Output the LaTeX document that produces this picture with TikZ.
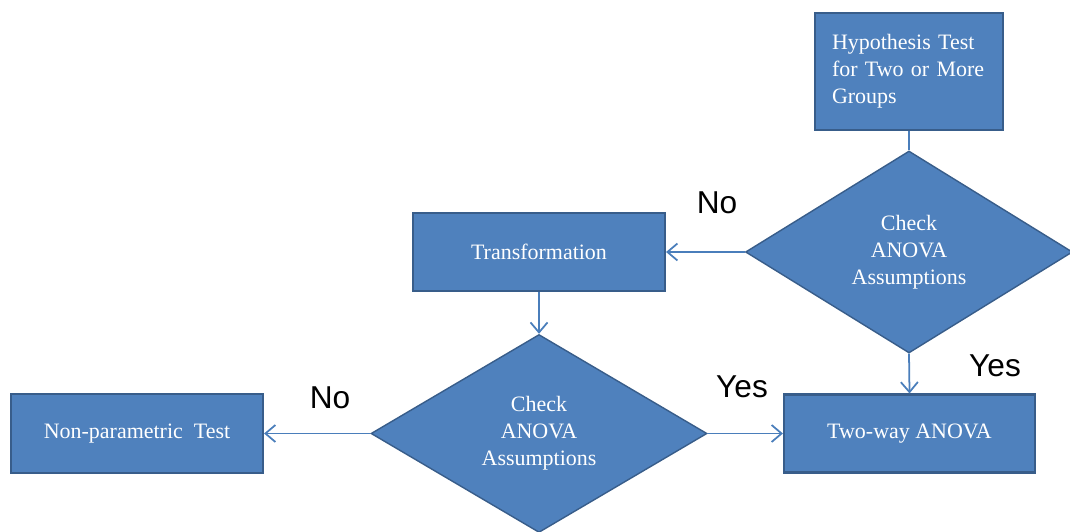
\documentclass[tikz,border=0pt]{standalone}
\usepackage{fontspec}
\setmainfont{Liberation Serif}
\newfontfamily\lblfont{Liberation Sans}
\usepackage{xcolor}
\usepackage{tikz}
\usetikzlibrary{positioning, arrows.meta, shapes.geometric}
\definecolor{boxfill}{HTML}{4F81BD}
\definecolor{boxline}{HTML}{385D8A}
\definecolor{wire}{HTML}{4A7EBB}
\begin{document}
\begin{tikzpicture}[
  box/.style={rectangle, draw=boxline, fill=boxfill, line width=1.2pt, text=white,
    font=\fontsize{12.5}{15.4}\selectfont, minimum width=5.04cm, minimum height=1.56cm, inner sep=0pt},
  choice/.style={diamond, draw=boxline, fill=boxfill, line width=0.8pt, text=white, align=center,
    font=\fontsize{12.5}{15.4}\selectfont, inner sep=0pt},
  flow/.style={draw=wire, line width=1pt, -{Straight Barb[length=2mm, width=3.4mm]}},
  answer/.style={font=\lblfont\fontsize{18}{20}\selectfont, text=black}
]
  \useasboundingbox (0,0) rectangle (21.40,10.62);
  \node[box, minimum width=3.76cm, minimum height=2.34cm, text width=3.08cm, align=left]
    (hyp) at (18.18,9.19) {Hypothesis Test\\ for Two or More\\ Groups};
  \node[choice, minimum width=6.54cm, minimum height=4.04cm] (check1) at (18.18,5.58)
    {Check\\ ANOVA\\ Assumptions};
  \node[box] (trans) at (10.78,5.58) {Transformation};
  \node[choice, minimum width=6.72cm, minimum height=3.96cm] (check2) at (10.78,1.95)
    {Check\\ ANOVA\\ Assumptions};
  \node[box, minimum height=1.58cm] (nonpar) at (2.74,1.95) {Non-parametric\ \ Test};
  \node[box, minimum width=5.02cm] (twoway) at (18.19,1.95) {Two-way ANOVA};
  \draw[draw=wire, line width=1pt] (hyp.south) -- (check1.north);
  \draw[flow] (check1.west) -- (trans.east);
  \draw[flow] (check1.south) -- (twoway.north);
  \draw[flow] (trans.south) -- (check2.north);
  \draw[flow] (check2.west) -- (nonpar.east);
  \draw[flow] (check2.east) -- (twoway.west);
  \node[answer] (no1) at (14.34,6.56) {No};
  \node[answer] (yes1) at (19.90,3.30) {Yes};
  \node[answer] (no2) at (6.60,2.66) {No};
  \node[answer] (yes2) at (14.84,2.88) {Yes};
\end{tikzpicture}
\end{document}
